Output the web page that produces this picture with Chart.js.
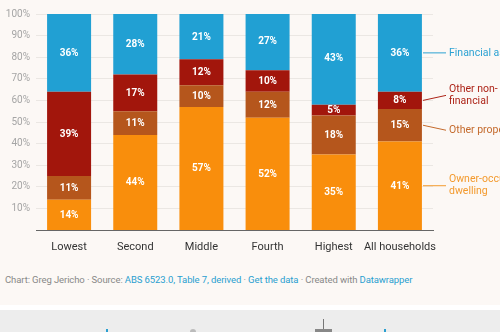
<!DOCTYPE html>
<html>
<head>
<meta charset="utf-8">
<script src="https://cdn.jsdelivr.net/npm/chart.js@4"></script>
<style>
  html, body { margin: 0; padding: 0; }
  body {
    width: 500px; height: 332px; overflow: hidden; position: relative;
    background: #fcf8f5; font-family: Roboto, 'Noto Sans', sans-serif;
  }
  #wrap { position: absolute; left: 0; top: 0; width: 500px; height: 252px; }
  #footer {
    position: absolute; left: 5px; top: 274px; font-size: 9.5px; color: #888;
    white-space: nowrap; letter-spacing: -0.1px;
  }
  #footer a { color: #2a9fd0; text-decoration: none; }
  #gap { position: absolute; left: 0; top: 305px; width: 500px; height: 5px; background: #ffffff; }
  #bar { position: absolute; left: 0; top: 310px; width: 500px; height: 22px; background: #ededed; }
  .ic { position: absolute; }
</style>
</head>
<body>
<div id="wrap"><canvas id="chart"></canvas></div>
<div id="footer">Chart: Greg Jericho · Source: <a>ABS 6523.0, Table 7, derived</a> · <a>Get the data</a> · Created with <a>Datawrapper</a></div>
<div id="gap"></div>
<div id="bar">
  <div class="ic" style="left:106px;top:19px;width:2px;height:3px;background:#2a9fd0"></div>
  <div class="ic" style="left:190px;top:19px;width:6px;height:3px;background:#bbb;border-radius:3px 3px 0 0"></div>
  <div class="ic" style="left:323px;top:9px;width:1px;height:13px;background:#777"></div>
  <div class="ic" style="left:315px;top:19px;width:17px;height:3px;background:#888"></div>
  <div class="ic" style="left:384px;top:19px;width:2px;height:3px;background:#2a9fd0"></div>
</div>
<script>
// quintile groups
const categories = ['Lowest', 'Second', 'Middle', 'Fourth', 'Highest', 'All households'];

// share of household wealth, % (bottom to top of each bar)
const ownerOccupied = [14, 44, 57, 52, 35, 41];
const otherProperty = [11, 11, 10, 12, 18, 15];
const otherNonFinancial = [39, 17, 12, 10, 5, 8];
const financialAssets = [36, 28, 21, 27, 43, 36];

const seriesNames = ['Owner-occupied dwelling', 'Other property', 'Other non-financial', 'Financial assets'];
// how the right-hand labels are broken in the reference
const sideLabels = [['Owner-occupied', 'dwelling'], ['Other property'], ['Other non-', 'financial'], ['Financial assets']];

const colors = {
  owner: '#f98e0c',
  property: '#b5561c',
  nonFinancial: '#a2160c',
  financial: '#21a0d3',
  ownerText: '#f39a2e',
  propertyText: '#c46a2c',
  nonFinancialText: '#ad2418',
  financialText: '#2ca2d3'
};

// white % labels inside every segment
const segmentLabels = {
  id: 'segmentLabels',
  afterDatasetsDraw(chart) {
    const ctx = chart.ctx;
    ctx.save();
    ctx.font = "bold 10px Roboto, sans-serif";
    ctx.fillStyle = '#ffffff';
    ctx.textAlign = 'center';
    ctx.textBaseline = 'middle';
    chart.data.datasets.forEach((ds, i) => {
      chart.getDatasetMeta(i).data.forEach((bar, j) => {
        const mid = (bar.y + bar.base) / 2;
        ctx.fillText(ds.data[j] + '%', bar.x, mid + 0.5);
      });
    });
    ctx.restore();
  }
};

// labels to the right of the last bar, with connector lines
const sideLegend = {
  id: 'sideLegend',
  afterDatasetsDraw(chart) {
    const ctx = chart.ctx;
    const y = chart.scales.y;
    const last = categories.length - 1;
    const textX = 449;
    const lineX0 = chart.chartArea.right - 10;
    const lineX1 = 446;
    const textColors = [colors.ownerText, colors.propertyText, colors.nonFinancialText, colors.financialText];
    // small nudges so the labels do not overlap (as in the reference)
    const nudge = [0, 5, -5, 0];
    ctx.save();
    ctx.font = "10.5px Roboto, sans-serif";
    ctx.textBaseline = 'middle';
    let acc = 0;
    chart.data.datasets.forEach((ds, i) => {
      const v = ds.data[last];
      const mid = y.getPixelForValue(acc + v / 2);
      acc += v;
      const ty = mid + nudge[i];
      ctx.strokeStyle = textColors[i];
      ctx.lineWidth = 1;
      ctx.beginPath();
      ctx.moveTo(lineX0, mid);
      ctx.lineTo(lineX1, ty);
      ctx.stroke();
      ctx.fillStyle = textColors[i];
      const lines = sideLabels[i];
      const lh = 12;
      lines.forEach((t, k) => {
        ctx.fillText(t, textX, ty + (k - (lines.length - 1) / 2) * lh);
      });
    });
    ctx.restore();
  }
};

const series = [ownerOccupied, otherProperty, otherNonFinancial, financialAssets];
const fills = [colors.owner, colors.property, colors.nonFinancial, colors.financial];

new Chart(document.getElementById('chart'), {
  type: 'bar',
  data: {
    labels: categories,
    datasets: series.map((d, i) => ({
      label: seriesNames[i],
      data: d,
      backgroundColor: fills[i],
      borderWidth: 0,
      categoryPercentage: 1,
      barPercentage: 0.665
    }))
  },
  options: {
    responsive: true,
    maintainAspectRatio: false,
    animation: false,
    layout: { padding: { top: 14, right: 67, left: 0, bottom: 0 } },
    plugins: {
      legend: { display: false },
      tooltip: { enabled: false }
    },
    scales: {
      x: {
        stacked: true,
        grid: { display: false },
        border: { color: '#666', width: 1 },
        ticks: {
          color: '#333',
          padding: 3,
          maxRotation: 0,
          minRotation: 0,
          autoSkip: false,
          font: { family: 'Roboto, sans-serif', size: 11 }
        },
        afterFit(scale) { scale.height = 22; }
      },
      y: {
        stacked: true,
        min: 0,
        max: 100,
        grid: { color: '#ebe7e3', drawTicks: false },
        border: { display: false },
        ticks: {
          stepSize: 10,
          color: '#a5a5a5',
          padding: 6,
          font: { family: 'Roboto, sans-serif', size: 10 },
          callback: v => (v === 0 ? null : v + '%')
        },
        afterFit(scale) { scale.width = 36; }
      }
    }
  },
  plugins: [segmentLabels, sideLegend]
});
</script>
</body>
</html>
